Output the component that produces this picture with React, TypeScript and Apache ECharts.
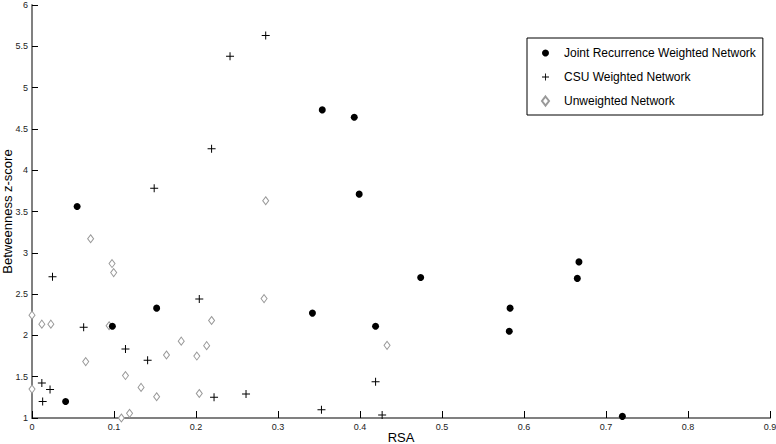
import React, { useEffect, useRef } from "react";
import * as echarts from "echarts";

const jointX = [0.055, 0.041, 0.098, 0.152, 0.354, 0.393, 0.399, 0.342, 0.419, 0.474, 0.583, 0.582, 0.667, 0.665, 0.72];
const jointY = [3.56, 1.2, 2.11, 2.33, 4.73, 4.64, 3.71, 2.27, 2.11, 2.7, 2.33, 2.05, 2.89, 2.69, 1.02];

const csuX = [0.2415, 0.285, 0.219, 0.149, 0.025, 0.204, 0.063, 0.114, 0.141, 0.012, 0.022, 0.013, 0.222, 0.261, 0.353, 0.419, 0.427];
const csuY = [5.38, 5.63, 4.26, 3.78, 2.71, 2.44, 2.1, 1.835, 1.7, 1.425, 1.345, 1.2, 1.25, 1.29, 1.1, 1.44, 1.036];

const unwX = [0.0715, 0.0976, 0.0996, 0.0, 0.012, 0.023, 0.094, 0.219, 0.182, 0.213, 0.164, 0.201, 0.0655, 0.114, 0.0, 0.133, 0.152, 0.204, 0.119, 0.109, 0.285, 0.283, 0.433];
const unwY = [3.17, 2.87, 2.76, 2.245, 2.136, 2.136, 2.117, 2.18, 1.93, 1.876, 1.763, 1.75, 1.683, 1.514, 1.35, 1.37, 1.257, 1.297, 1.056, 1.0, 3.63, 2.446, 1.88];

const seriesNames = ["Joint Recurrence Weighted Network", "CSU Weighted Network", "Unweighted Network"];

const PLUS = "path://M3.5,0H4.5V3.5H8V4.5H4.5V8H3.5V4.5H0V3.5H3.5Z";

const zip = (xs: number[], ys: number[]) => xs.map((x, i) => [x, ys[i]]);

export default function App() {
  const ref = useRef<HTMLDivElement>(null);
  useEffect(() => {
    if (!ref.current) return;
    const chart = echarts.init(ref.current, null, { renderer: "svg" });
    const font = "'Liberation Sans', Arial, Helvetica, sans-serif";
    chart.setOption({
      animation: false,
      backgroundColor: "#fff",
      textStyle: { fontFamily: font },
      grid: { left: 32, right: 6, top: 5, bottom: 26, containLabel: false, outerBoundsMode: "none" },
      legend: {
        orient: "vertical",
        left: 527,
        top: 38,
        padding: [8, 7, 7, 14],
        itemGap: 10,
        itemWidth: 7,
        itemHeight: 9,
        backgroundColor: "#fff",
        borderColor: "#000",
        borderWidth: 1,
        borderRadius: 0,
        textStyle: { fontSize: 12, color: "#000", fontFamily: font, padding: [0, 0, 0, 10], lineHeight: 14 },
        data: seriesNames,
      },
      xAxis: {
        type: "value",
        min: 0,
        max: 0.9,
        interval: 0.1,
        name: "RSA",
        nameLocation: "middle",
        nameGap: 13,
        nameMoveOverlap: false,
        nameTextStyle: { fontSize: 13, color: "#000", fontFamily: font },
        splitLine: { show: false },
        axisLine: { show: true, onZero: false, lineStyle: { color: "#808080", width: 2 } },
        axisTick: { show: true, inside: true, length: 7, lineStyle: { color: "#000", width: 1 } },
        axisLabel: { fontSize: 9, color: "#222", margin: 4, fontFamily: font },
      },
      yAxis: {
        type: "value",
        min: 1,
        max: 6,
        interval: 0.5,
        name: "Betweenness z-score",
        nameLocation: "middle",
        nameGap: 18,
        nameMoveOverlap: false,
        nameTextStyle: { fontSize: 13, color: "#000", fontFamily: font },
        splitLine: { show: false },
        axisLine: { show: true, onZero: false, lineStyle: { color: "#808080", width: 2 } },
        axisTick: { show: true, inside: true, length: 6, lineStyle: { color: "#000", width: 1 } },
        axisLabel: { fontSize: 9, color: "#222", margin: 4, fontFamily: font },
      },
      series: [
        {
          name: seriesNames[0],
          type: "scatter",
          symbol: "circle",
          symbolSize: 7,
          itemStyle: { color: "#000", opacity: 1 },
          data: zip(jointX, jointY),
          z: 3,
        },
        {
          name: seriesNames[1],
          type: "scatter",
          symbol: PLUS,
          symbolSize: 8,
          itemStyle: { color: "#000", opacity: 1 },
          data: zip(csuX, csuY),
          z: 2,
        },
        {
          name: seriesNames[2],
          type: "scatter",
          symbol: "diamond",
          symbolSize: [6, 8],
          itemStyle: { color: "#fff", borderColor: "#999", borderWidth: 1, opacity: 1 },
          data: zip(unwX, unwY),
          z: 1,
        },
      ],
    });
    return () => chart.dispose();
  }, []);
  return (
    <div
      ref={ref}
      style={{ position: "fixed", left: 0, top: 0, width: 776, height: 444, background: "#fff" }}
    />
  );
}
